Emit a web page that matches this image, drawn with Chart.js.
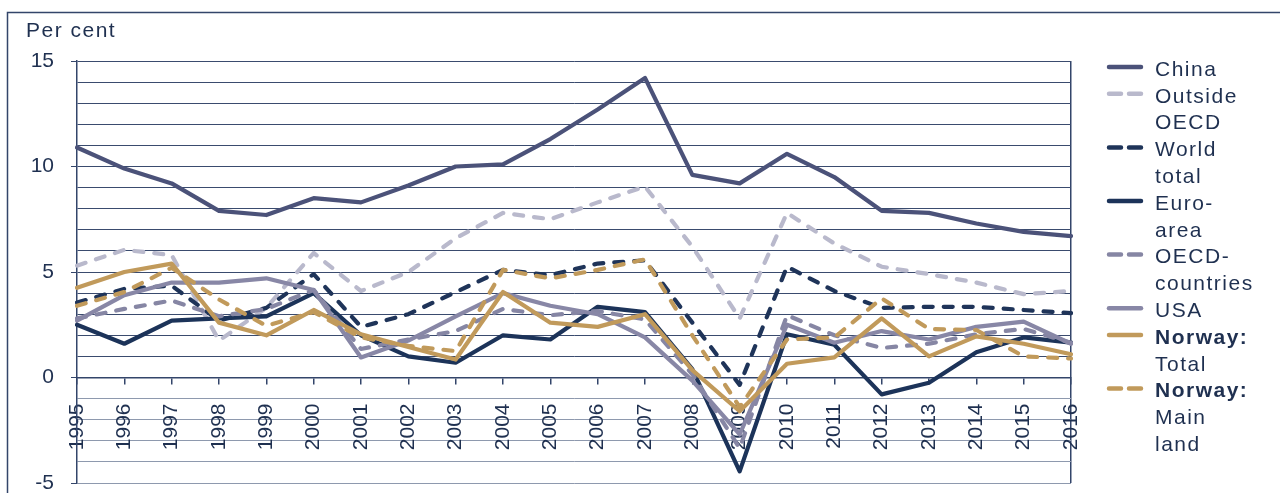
<!DOCTYPE html>
<html>
<head>
<meta charset="utf-8">
<script src="https://cdn.jsdelivr.net/npm/chart.js@4.4.0/dist/chart.umd.min.js"></script>
<style>
    html, body { margin: 0; padding: 0; background: #fff; }
    #wrap { position: relative; width: 1280px; height: 493px; }
</style>
</head>
<body>
<div id="wrap"><canvas id="gdpChart" width="1280" height="493"></canvas></div>
<script>
const years = ['1995', '1996', '1997', '1998', '1999', '2000', '2001', '2002', '2003', '2004', '2005',
    '2006', '2007', '2008', '2009', '2010', '2011', '2012', '2013', '2014', '2015', '2016'];

const china = [10.9, 9.9, 9.2, 7.9, 7.7, 8.5, 8.3, 9.1, 10.0, 10.1, 11.3, 12.7, 14.2, 9.6, 9.2, 10.6, 9.5, 7.9, 7.8, 7.3, 6.9, 6.7];
const outsideOecd = [5.3, 6.05, 5.8, 1.75, 3.3, 5.9, 4.1, 5.0, 6.6, 7.8, 7.5, 8.3, 9.05, 6.2, 2.8, 7.8, 6.35, 5.25, 4.9, 4.5, 3.95, 4.1];
const worldTotal = [3.55, 4.2, 4.35, 2.7, 3.3, 4.9, 2.4, 3.0, 4.05, 5.1, 4.85, 5.4, 5.55, 2.6, -0.35, 5.25, 4.1, 3.3, 3.35, 3.35, 3.2, 3.05];
const euroArea = [2.5, 1.6, 2.7, 2.8, 2.9, 4.0, 2.0, 1.0, 0.7, 2.0, 1.8, 3.35, 3.1, 0.4, -4.45, 2.05, 1.55, -0.8, -0.25, 1.2, 1.9, 1.65];
const oecdCountries = [2.8, 3.25, 3.65, 2.9, 3.25, 4.15, 1.35, 1.8, 2.2, 3.25, 2.95, 3.15, 2.75, 0.15, -3.35, 2.95, 2.0, 1.4, 1.6, 2.05, 2.3, 1.65];
const usa = [2.7, 3.9, 4.5, 4.5, 4.7, 4.15, 0.95, 1.75, 2.9, 4.0, 3.4, 3.0, 1.9, -0.15, -2.7, 2.5, 1.65, 2.2, 1.8, 2.4, 2.65, 1.6];
const norwayTotal = [4.25, 5.0, 5.4, 2.6, 2.0, 3.2, 2.05, 1.45, 0.85, 4.05, 2.6, 2.4, 3.0, 0.35, -1.6, 0.65, 0.95, 2.8, 1.0, 1.95, 1.6, 1.1];
const norwayMainland = [3.4, 4.05, 5.2, 3.7, 2.45, 3.1, 1.9, 1.5, 1.25, 5.1, 4.7, 5.1, 5.6, 2.0, -1.4, 1.8, 1.9, 3.75, 2.3, 2.25, 1.0, 0.9];

const yTickLabels = [-5, 0, 5, 10, 15];

// legend text, one array per series; the first line of the Norway entries is bold
const legendLines = [
    ['China'],
    ['Outside', 'OECD'],
    ['World', 'total'],
    ['Euro-', 'area'],
    ['OECD-', 'countries'],
    ['USA'],
    ['Norway:', 'Total'],
    ['Norway:', 'Main', 'land']
];
const legendBoldFirst = [false, false, false, false, false, false, true, true];

const textColor = '#1f3050';
const axisColor = '#33456a';
const fontFamily = '"Liberation Sans", Arial, sans-serif';
const dash = [9, 11];

function series(label, data, color, dashed, order) {
    return {
        label: label,
        data: data,
        borderColor: color,
        backgroundColor: color,
        borderWidth: 4.2,
        borderDash: dashed ? dash : [],
        borderCapStyle: 'round',
        borderJoinStyle: 'round',
        pointRadius: 0,
        tension: 0,
        fill: false,
        order: order
    };
}

const datasets = [
    series('China', china, '#4b5279', false, 7),
    series('Outside OECD', outsideOecd, '#b9b9cc', true, 6),
    series('World total', worldTotal, '#1f3459', true, 5),
    series('Euro-area', euroArea, '#1c3359', false, 4),
    series('OECD-countries', oecdCountries, '#8686a4', true, 3),
    series('USA', usa, '#8887a6', false, 2),
    series('Norway: Total', norwayTotal, '#c19a5b', false, 1),
    series('Norway: Mainland', norwayMainland, '#c19a5b', true, 0)
];

const decorPlugin = {
    id: 'decor',
    afterDraw(chart) {
        const ctx = chart.ctx;
        ctx.save();
        // frame of the figure
        ctx.strokeStyle = axisColor;
        ctx.lineWidth = 1.5;
        ctx.beginPath();
        ctx.moveTo(7.5, 493);
        ctx.lineTo(7.5, 12.5);
        ctx.lineTo(1280, 12.5);
        ctx.stroke();

        ctx.letterSpacing = '1.5px';
        ctx.fillStyle = textColor;
        ctx.textBaseline = 'middle';
        ctx.textAlign = 'left';
        ctx.font = '21px ' + fontFamily;
        ctx.fillText('Per cent', 26, 31);

        // legend
        const rowH = 26.8;
        let row = 0;
        datasets.forEach((ds, i) => {
            const y = 67 + row * rowH;
            ctx.save();
            ctx.strokeStyle = ds.borderColor;
            ctx.lineWidth = 4.5;
            ctx.lineCap = 'round';
            ctx.setLineDash(ds.borderDash.length ? [12, 8] : []);
            ctx.beginPath();
            ctx.moveTo(1109, y);
            ctx.lineTo(1141, y);
            ctx.stroke();
            ctx.restore();
            legendLines[i].forEach((line, j) => {
                const bold = legendBoldFirst[i] && j === 0;
                ctx.font = (bold ? 'bold ' : '') + '21px ' + fontFamily;
                ctx.fillText(line, 1155, y + 3 + j * rowH);
            });
            row += legendLines[i].length;
        });
        ctx.restore();
    }
};

new Chart(document.getElementById('gdpChart'), {
    type: 'line',
    data: { labels: years, datasets: datasets },
    options: {
        responsive: false,
        animation: false,
        events: [],
        layout: { padding: { top: 61, right: 209, bottom: 10, left: 0 } },
        plugins: {
            legend: { display: false },
            tooltip: { enabled: false }
        },
        scales: {
            x: {
                type: 'category',
                position: { y: 0 },
                offset: false,
                ticks: {
                    autoSkip: false,
                    minRotation: 90,
                    maxRotation: 90,
                    padding: 20,
                    color: textColor,
                    font: { family: fontFamily, size: 21 }
                },
                grid: {
                    drawOnChartArea: true,
                    color: ctx => ctx.index === years.length - 1 ? axisColor : 'rgba(0,0,0,0)',
                    lineWidth: 1.5,
                    tickLength: 6,
                    tickColor: axisColor,
                    tickWidth: 1.5
                },
                border: { color: axisColor, width: 1.5 }
            },
            y: {
                min: -5,
                max: 15,
                ticks: {
                    stepSize: 1,
                    autoSkip: false,
                    padding: 17,
                    color: textColor,
                    font: { family: fontFamily, size: 21 },
                    callback: v => yTickLabels.includes(v) ? v : ''
                },
                grid: {
                    color: ctx => ctx.tick && ctx.tick.value < 0 ? '#8e99ae' : '#3a4b6e',
                    lineWidth: 1,
                    tickLength: 6,
                    tickColor: ctx => ctx.tick && yTickLabels.includes(ctx.tick.value) ? axisColor : 'rgba(0,0,0,0)'
                },
                border: { color: axisColor, width: 1.5 },
                afterFit: scale => {
                    scale.width = 77;
                    scale.paddingTop = 0;
                    scale.paddingBottom = 0;
                }
            }
        }
    },
    plugins: [decorPlugin]
});
</script>
</body>
</html>
